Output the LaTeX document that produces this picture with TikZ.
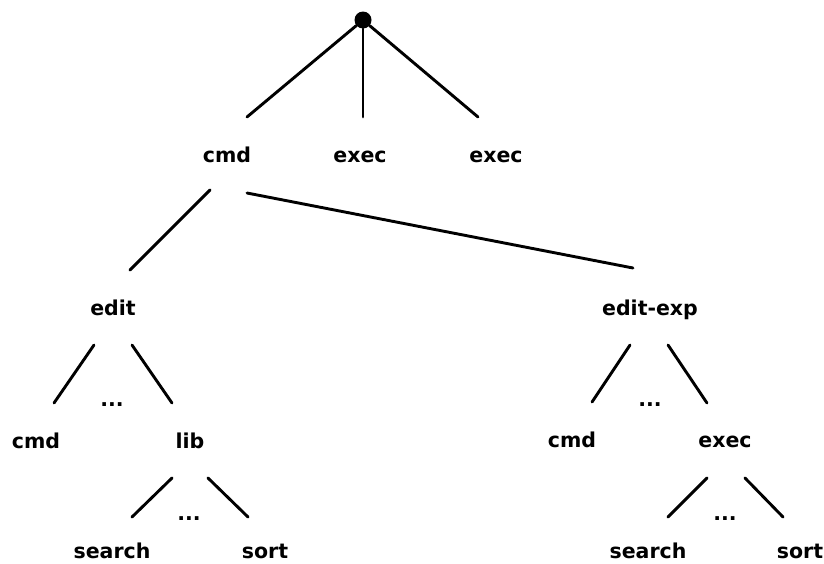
\documentclass[tikz,border=0pt]{standalone}
\usepackage{fontspec}
\setmainfont{DejaVu Sans}
\begin{document}
\begin{tikzpicture}[x=1pt,y=-1pt,
  lbl/.style={anchor=base,inner sep=0pt,font=\fontsize{20.5}{24}\selectfont\bfseries},
  edge/.style={line width=2.9pt,line cap=round},
  dotnode/.style={circle,fill=black,inner sep=0pt,minimum size=17pt}]
\useasboundingbox (0,0) rectangle (824,563);
\node[dotnode] (root) at (363,20) {};
\node[lbl] (c1) at (227,162) {cmd};
\node[lbl] (e1) at (360,162) {exec};
\node[lbl] (e2) at (496,162) {exec};
\node[lbl] (edit) at (113,315) {edit};
\node[lbl] (eexp) at (650,315) {edit-exp};
\node[lbl] (lc) at (36,448) {cmd};
\node[lbl] (lib) at (190,448) {lib};
\node[lbl] (rc) at (572,447) {cmd};
\node[lbl] (rx) at (725,447) {exec};
\node[lbl] (s1) at (112,558) {search};
\node[lbl] (t1) at (265,558) {sort};
\node[lbl] (s2) at (648,558) {search};
\node[lbl] (t2) at (800,558) {sort};
\node[lbl] (d1) at (112,406) {...};
\node[lbl] (d2) at (189,520) {...};
\node[lbl] (d3) at (650,406) {...};
\node[lbl] (d4) at (725,520) {...};
% connectors
\draw[edge] (root) -- ([shift={(20,-45)}]c1.base);
\draw[edge] (root) -- ([shift={(3,-45)}]e1.base);
\draw[edge] (root) -- ([shift={(-18,-45)}]e2.base);
\draw[edge] ([shift={(-17,28)}]c1.base) -- ([shift={(17,-45)}]edit.base);
\draw[edge] ([shift={(20,31)}]c1.base) -- ([shift={(-17,-47)}]eexp.base);
\draw[edge] ([shift={(-19,30)}]edit.base) -- ([shift={(18,-45)}]lc.base);
\draw[edge] ([shift={(19,30)}]edit.base) -- ([shift={(-18,-45)}]lib.base);
\draw[edge] ([shift={(-18,30)}]lib.base) -- ([shift={(20,-41)}]s1.base);
\draw[edge] ([shift={(18,30)}]lib.base) -- ([shift={(-17,-41)}]t1.base);
\draw[edge] ([shift={(-20,30)}]eexp.base) -- ([shift={(20,-45)}]rc.base);
\draw[edge] ([shift={(18,30)}]eexp.base) -- ([shift={(-18,-44)}]rx.base);
\draw[edge] ([shift={(-18,31)}]rx.base) -- ([shift={(20,-41)}]s2.base);
\draw[edge] ([shift={(20,31)}]rx.base) -- ([shift={(-17,-41)}]t2.base);
\end{tikzpicture}
\end{document}
